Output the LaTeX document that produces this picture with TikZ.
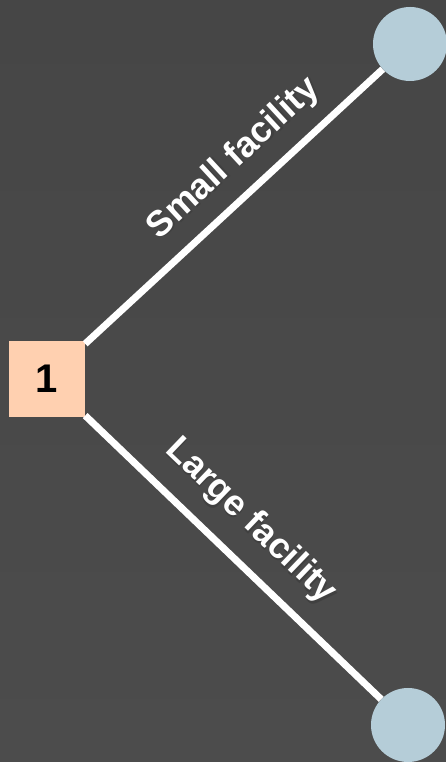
\documentclass[tikz,border=0pt]{standalone}
\usepackage{fontspec}
\setmainfont{Liberation Sans}
\usetikzlibrary{positioning}
\definecolor{bggray}{RGB}{70, 70, 70}
\definecolor{bggraylight}{RGB}{76, 76, 76}
\definecolor{peach}{RGB}{255, 208, 176}
\definecolor{paleblue}{RGB}{181, 205, 216}
\newcommand{\shadowed}[1]{\makebox[0pt][l]{\hspace{1.8pt}\raisebox{-1.8pt}{\textcolor{black!75}{#1}}}#1}

\begin{document}
\begin{tikzpicture}[x=1pt, y=1pt, every node/.style={font=\bfseries}]
\shade[top color=bggray, bottom color=bggraylight] (0,0) rectangle (446,762);
\useasboundingbox (0,0) rectangle (446,762);
\tikzset{
  decision/.style={draw=none, fill=peach, minimum size=76pt, inner sep=0pt, font=\bfseries\fontsize{40}{40}\selectfont},
  outcome/.style={circle, fill=paleblue, minimum size=74pt, inner sep=0pt},
  branch/.style={draw=white, line width=7pt},
  branchlabel/.style={text=white, sloped, inner sep=2pt, font=\bfseries\fontsize{36}{36}\selectfont}
}
\node[decision] (one) at (47,383) {1};
\node[outcome] (small) at (410,718) {};
\node[outcome] (large) at (408,37) {};
\draw[branch] (one) -- node[branchlabel, pos=0.58, above=11pt] {\shadowed{Small facility}} (small);
\draw[branch] (one) -- node[branchlabel, pos=0.47, above=14pt] {\shadowed{Large facility}} (large);
\end{tikzpicture}
\end{document}
